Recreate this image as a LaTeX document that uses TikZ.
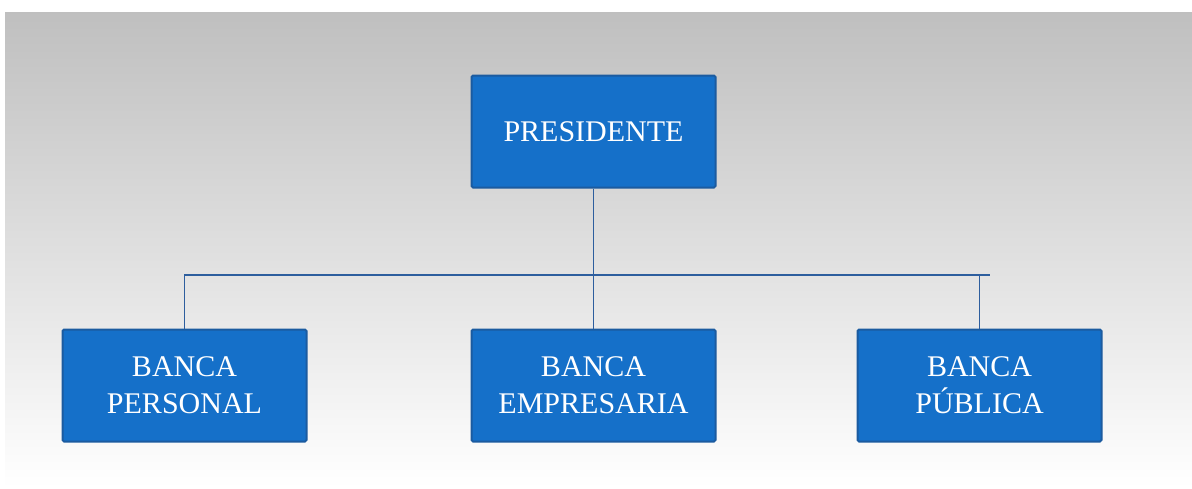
\documentclass[tikz,border=0pt]{standalone}
\usepackage{fontspec}
\setmainfont{Liberation Serif}
\usetikzlibrary{positioning}
\definecolor{boxblue}{HTML}{1570C9}
\definecolor{boxedge}{HTML}{1B5BA0}
\definecolor{linkblue}{HTML}{2D5E9E}

\begin{document}
\begin{tikzpicture}[
  x=1pt, y=-1pt,
  box/.style={draw=boxedge, line width=2pt, fill=boxblue, rounded corners=1.5pt,
    text=white, align=center, minimum width=244pt, minimum height=112pt,
    inner sep=0pt, font=\fontsize{30}{37}\selectfont},
  link/.style={draw=linkblue, line width=1.7pt},
  node distance=140pt,
]
  \useasboundingbox (0,0) rectangle (1192,488);
  \fill[white] (0,0) rectangle (1192,488);
  \shade[top color=black!25, middle color=black!8, bottom color=white]
    (5,12) rectangle (1192,488);

  \node[box] (pres) at (593.5,131.5) {PRESIDENTE};
  \node[box, below=of pres] (emp) {BANCA\\EMPRESARIA};
  \node[box, left=163pt of emp] (pers) {BANCA\\PERSONAL};
  \node[box, right=140pt of emp] (pub) {BANCA\\PÚBLICA};
  \coordinate (barend) at (990,275);

  \draw[link] (pres) -- (emp);
  \draw[link] (pers.north) |- (barend);
  \draw[link] (pub.north) -- (pub.north |- barend);
\end{tikzpicture}
\end{document}
